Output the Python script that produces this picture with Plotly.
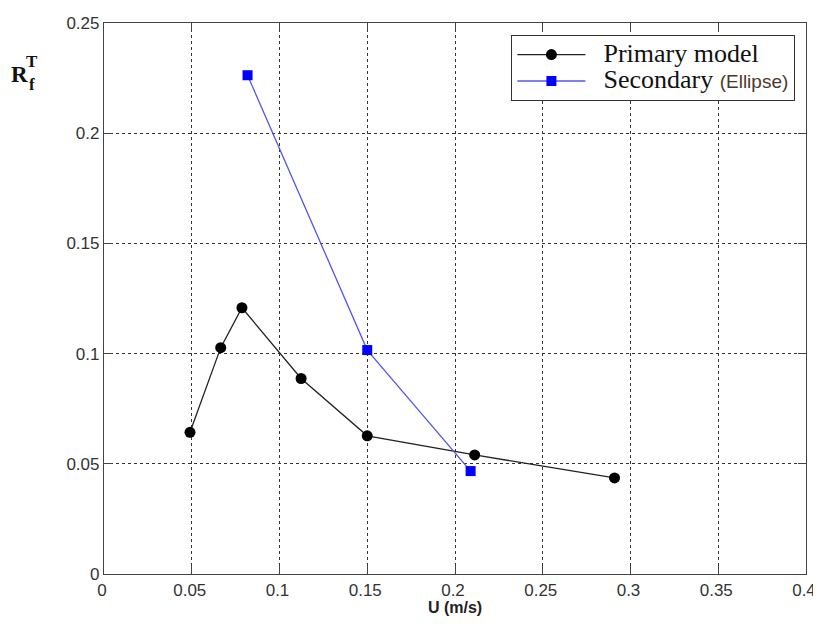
import plotly.graph_objects as go

primary_u = [0.049, 0.0665, 0.0786, 0.1123, 0.15, 0.2112, 0.2909]
primary_r = [0.0643, 0.1027, 0.1208, 0.0887, 0.0627, 0.0540, 0.0436]
secondary_u = [0.0818, 0.15, 0.2089]
secondary_r = [0.2263, 0.1016, 0.0467]

x_ticks = [0, 0.05, 0.1, 0.15, 0.2, 0.25, 0.3, 0.35, 0.4]
x_tick_text = ["0", "0.05", "0.1", "0.15", "0.2", "0.25", "0.3", "0.35", "0.4"]
y_ticks = [0, 0.05, 0.1, 0.15, 0.2, 0.25]
y_tick_text = ["0", "0.05", "0.1", "0.15", "0.2", "0.25"]

fig = go.Figure()
fig.add_trace(go.Scatter(
    x=primary_u, y=primary_r, mode="lines+markers",
    name="<span style='font-size:26px'>\u00a0\u00a0Primary model</span>",
    line=dict(color="#222222", width=1.3),
    marker=dict(symbol="circle", size=11, color="black"),
))
fig.add_trace(go.Scatter(
    x=secondary_u, y=secondary_r, mode="lines+markers",
    name="<span style='font-size:26px'>\u00a0\u00a0Secondary </span><span style='font-family:Liberation Sans, Arial;font-size:19px;color:#4a3a2a'>(Ellipse)</span>",
    line=dict(color="#5555e8", width=1.3),
    marker=dict(symbol="square", size=10, color="#0000ff"),
))

tickfont = dict(family="Liberation Sans Narrow, Arial Narrow, Liberation Sans, Arial", size=17, color="#333333")
axis_common = dict(
    showline=True, linecolor="#444444", linewidth=1.2, mirror="ticks",
    ticks="inside", ticklen=8, tickcolor="#444444",
    showgrid=True, gridcolor="#333333", griddash="dot", gridwidth=1.3,
    zeroline=False, tickfont=tickfont, automargin=False,
)
fig.update_xaxes(range=[0, 0.4], tickvals=x_ticks, ticktext=x_tick_text, ticklabelshift=-2,
                 title=dict(text="<b>U (m/s)</b>", font=dict(family="Liberation Sans, Arial", size=16, color="#222222"), standoff=2),
                 **axis_common)
fig.update_yaxes(range=[0, 0.25], tickvals=y_ticks, ticktext=y_tick_text, **axis_common)

# Y-axis label R_f^T drawn as stacked text
serif = "Liberation Serif, Times New Roman, serif"
fig.add_annotation(text="<b>R</b>", xref="paper", yref="paper", x=-0.121, y=0.906,
                   showarrow=False, font=dict(family=serif, size=23, color="#111111"), xanchor="center", yanchor="middle")
fig.add_annotation(text="<b>T</b>", xref="paper", yref="paper", x=-0.103, y=0.930,
                   showarrow=False, font=dict(family=serif, size=17, color="#111111"), xanchor="center", yanchor="middle")
fig.add_annotation(text="<b>f</b>", xref="paper", yref="paper", x=-0.103, y=0.889,
                   showarrow=False, font=dict(family=serif, size=17, color="#111111"), xanchor="center", yanchor="middle")

fig.update_layout(
    width=813, height=614,
    margin=dict(l=96, r=15, t=15, b=48, autoexpand=False),
    paper_bgcolor="white", plot_bgcolor="white",
    showlegend=True,
    legend=dict(
        x=0.9845, y=0.978, xanchor="right", yanchor="top",
        bgcolor="white", bordercolor="#333333", borderwidth=1.3,
        font=dict(family=serif, size=18, color="#111111"),
        itemwidth=68, tracegroupgap=0,
    ),
)

fig.write_html("out.html")
